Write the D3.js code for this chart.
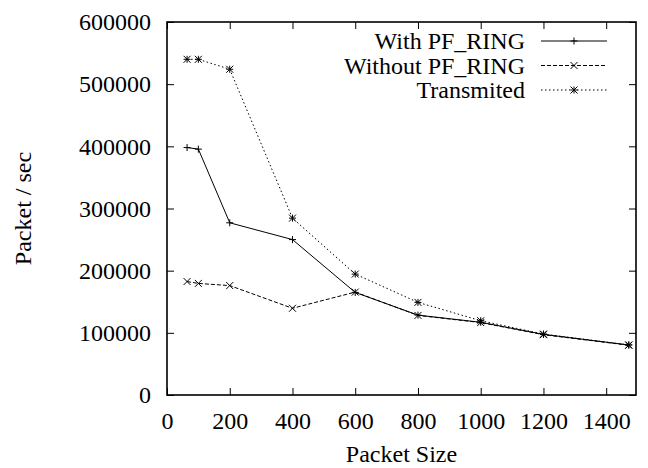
<!DOCTYPE html>
<html>
<head>
<meta charset="utf-8">
<script src="https://cdn.jsdelivr.net/npm/d3@7"></script>
<style>
  body { margin: 0; background: #fff; }
  svg text { font-family: "Liberation Serif", "Times New Roman", Times, serif !important; fill: #000; }
</style>
</head>
<body>
<div id="chart"></div>
<script>
// packet sizes and rates
var packetSizes = [64, 100, 200, 400, 600, 800, 1000, 1200, 1472];
var withPfRing = [398000, 395500, 277000, 250000, 165000, 128500, 117000, 97500, 80500];
var withoutPfRing = [182500, 179500, 176000, 139500, 165500, 128000, 116500, 97000, 80000];
var transmited = [540000, 540000, 524000, 284500, 194500, 149000, 119500, 98000, 80500];

var xTicks = [0, 200, 400, 600, 800, 1000, 1200, 1400];
var yTicks = [0, 100000, 200000, 300000, 400000, 500000, 600000];

var seriesNames = ["With PF_RING", "Without PF_RING", "Transmited"];
var seriesDash = ["none", "4,2", "1.5,2.5"];
var seriesMarker = ["plus", "cross", "star"];

var serif = "'Liberation Serif', 'Times New Roman', Times, serif";
var fontSize = 24;

var margin = { top: 22, right: 12, bottom: 73, left: 167 };
var width = 648 - margin.left - margin.right,
    height = 468 - margin.top - margin.bottom;

var svg = d3.select("#chart").append("svg")
    .attr("width", 648)
    .attr("height", 468)
  .append("g")
    .attr("transform", "translate(" + margin.left + "," + margin.top + ")");

var x = d3.scaleLinear().domain([0, 1495]).range([0, width]);
var y = d3.scaleLinear().domain([0, 600000]).range([height, 0]);

// ticks point inward, mirrored on top and right
var tickLen = 7;
var fmt = d3.format("d");

svg.append("g").attr("transform", "translate(0," + height + ")")
    .call(d3.axisBottom(x).tickValues(xTicks).tickFormat(fmt).tickSizeInner(-tickLen).tickSizeOuter(0).tickPadding(17));
svg.append("g")
    .call(d3.axisLeft(y).tickValues(yTicks).tickFormat(fmt).tickSizeInner(-tickLen).tickSizeOuter(0).tickPadding(16));
svg.append("g")
    .call(d3.axisTop(x).tickValues(xTicks).tickSizeInner(-tickLen).tickSizeOuter(0).tickFormat(""));
svg.append("g").attr("transform", "translate(" + width + ",0)")
    .call(d3.axisRight(y).tickValues(yTicks).tickSizeInner(-tickLen).tickSizeOuter(0).tickFormat(""));

svg.selectAll("g").attr("font-family", serif);
svg.selectAll(".domain").remove();
svg.selectAll(".tick line").attr("stroke", "#000").attr("stroke-width", 1);
svg.selectAll(".tick text")
    .attr("font-family", serif)
    .attr("font-size", fontSize)
    .attr("fill", "#000");

svg.append("rect")
    .attr("width", width).attr("height", height)
    .attr("fill", "none").attr("stroke", "#000").attr("stroke-width", 1.6);

// axis titles
svg.append("text")
    .attr("x", width / 2).attr("y", height + 67)
    .attr("text-anchor", "middle")
    .attr("font-family", serif)
    .attr("font-size", fontSize)
    .text("Packet Size");

svg.append("text")
    .attr("transform", "translate(" + (31 - margin.left) + "," + (height / 2) + ") rotate(-90)")
    .attr("text-anchor", "middle")
    .attr("font-family", serif)
    .attr("font-size", fontSize)
    .text("Packet / sec");

function drawMarker(g, type, cx, cy) {
    var s = 3.5;
    var p = d3.path();
    if (type === "plus" || type === "star") {
        p.moveTo(cx - s, cy); p.lineTo(cx + s, cy);
        p.moveTo(cx, cy - s); p.lineTo(cx, cy + s);
    }
    if (type === "cross" || type === "star") {
        p.moveTo(cx - s, cy - s); p.lineTo(cx + s, cy + s);
        p.moveTo(cx - s, cy + s); p.lineTo(cx + s, cy - s);
    }
    g.append("path").attr("d", p.toString())
        .attr("stroke", "#000").attr("stroke-width", 1).attr("fill", "none");
}

var allSeries = [withPfRing, withoutPfRing, transmited];

var line = d3.line()
    .x(function(d, i) { return x(packetSizes[i]); })
    .y(function(d) { return y(d); });

allSeries.forEach(function(vals, k) {
    var g = svg.append("g");
    g.append("path")
        .attr("d", line(vals))
        .attr("fill", "none")
        .attr("stroke", "#000")
        .attr("stroke-width", 1)
        .attr("stroke-dasharray", seriesDash[k]);
    vals.forEach(function(v, i) {
        drawMarker(g, seriesMarker[k], x(packetSizes[i]), y(v));
    });
});

// legend
var legendRows = [41, 65.5, 90];
var legend = svg.append("g").attr("transform", "translate(" + (-margin.left) + "," + (-margin.top) + ")");
seriesNames.forEach(function(name, k) {
    var ry = legendRows[k];
    legend.append("text")
        .attr("x", 525).attr("y", ry + 8)
        .attr("text-anchor", "end")
        .attr("font-family", serif)
        .attr("font-size", fontSize)
        .text(name);
    legend.append("line")
        .attr("x1", 541).attr("x2", 607)
        .attr("y1", ry).attr("y2", ry)
        .attr("stroke", "#000").attr("stroke-width", 1)
        .attr("stroke-dasharray", seriesDash[k]);
    drawMarker(legend, seriesMarker[k], 574, ry);
});
</script>
</body>
</html>
